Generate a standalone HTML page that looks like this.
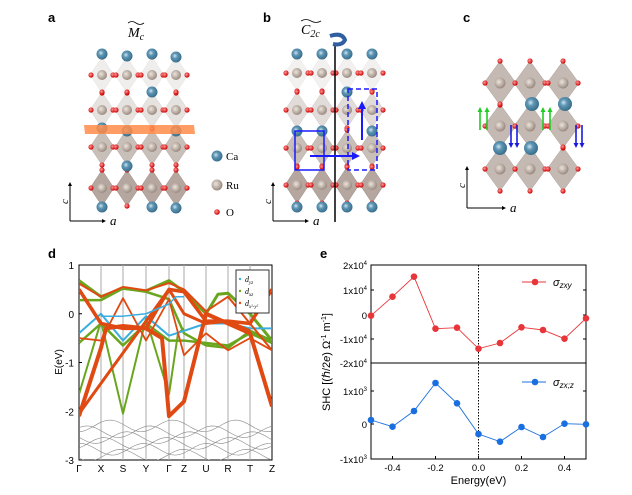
<!DOCTYPE html><html><head><meta charset="utf-8"><style>
body{margin:0;background:#fff;width:632px;height:490px;overflow:hidden}
svg{font-family:"Liberation Sans",sans-serif}
</style></head><body>
<svg id="s" width="632" height="490" viewBox="0 0 632 490" xmlns="http://www.w3.org/2000/svg">
<defs>
<radialGradient id="ca" cx="0.4" cy="0.4" r="0.6"><stop offset="0" stop-color="#cfe6f2"/><stop offset="0.4" stop-color="#5d95b3"/><stop offset="1" stop-color="#3a6f8c"/></radialGradient>
<radialGradient id="ru" cx="0.4" cy="0.4" r="0.6"><stop offset="0" stop-color="#ece4dc"/><stop offset="1" stop-color="#9a8a80"/></radialGradient>
<radialGradient id="o" cx="0.4" cy="0.4" r="0.6"><stop offset="0" stop-color="#ff9a9a"/><stop offset="1" stop-color="#cc0000"/></radialGradient>
<clipPath id="cp"><rect x="79" y="265" width="193" height="195"/></clipPath>
</defs>
<g id="g"></g>
<text x="48" y="22" font-size="13" font-weight="bold">a</text>
<text x="263" y="22" font-size="13" font-weight="bold">b</text>
<text x="463" y="22" font-size="13" font-weight="bold">c</text>
<text x="48" y="258" font-size="13" font-weight="bold">d</text>
<text x="320" y="258" font-size="13" font-weight="bold">e</text>
<text x="128" y="37" font-size="14" font-style="italic" font-family="Liberation Serif">M<tspan font-size="10" dy="3">c</tspan></text>
<path d="M128 23 q4 -3 8 0 t8 0" stroke="#000" fill="none" stroke-width="0.8"/>
<text x="301" y="34" font-size="14" font-style="italic" font-family="Liberation Serif">C<tspan font-size="10" dy="3">2c</tspan></text>
<path d="M301 21 q5 -3 10 0 t10 0" stroke="#000" fill="none" stroke-width="0.8"/>
<circle cx="217" cy="156" r="5.5" fill="url(#ca)"/>
<circle cx="217" cy="185" r="5.5" fill="url(#ru)"/>
<circle cx="217" cy="212" r="2.8" fill="url(#o)"/>
<text x="226" y="160" font-size="11" font-family="Liberation Serif">Ca</text>
<text x="226" y="189" font-size="11" font-family="Liberation Serif">Ru</text>
<text x="226" y="216" font-size="11" font-family="Liberation Serif">O</text>
</svg>
<script>
const g=document.getElementById('g');let h='';
function oct(x,y,w,hh,op){h+=`<polygon points="${x},${y-hh} ${x+w},${y} ${x},${y+hh} ${x-w},${y}" fill="#9c8a80" fill-opacity="${op}" stroke="#8a7a70" stroke-width="0.5" stroke-opacity="${op}"/>`;}
function c(x,y,r,f){h+=`<circle cx="${x}" cy="${y}" r="${r}" fill="url(#${f})"/>`;}
function struct(cols,rows,cas,op){
 rows.forEach((y,ri)=>cols.forEach(x=>oct(x,y,12,18,op[ri])));
 rows.forEach(y=>cols.forEach(x=>{c(x,y,5,'ru');c(x,y-18,2.6,'o');c(x,y+18,2.6,'o');c(x-11,y,2.6,'o');c(x+11,y,2.6,'o');}));
 cas.forEach(p=>c(p[0],p[1],5.5,'ca'));
}
struct([102,127,152,176],[75,110,147,188],[[102,54],[127,56],[152,54],[176,57],[152,92],[102,128],[127,131],[176,131],[127,166],[102,207],[152,207],[176,208]],[0.15,0.25,0.55,0.75]);
h+=`<polygon points="84,125 194,125 195,134 85,134" fill="#ff8c4a" opacity="0.85"/>`;
struct([297,322,347,372],[73,110,148,185],[[297,54],[322,54],[347,54],[372,54],[347,92],[297,131],[322,131],[372,131],[297,207],[322,207],[347,207],[372,207]],[0.12,0.3,0.55,0.75]);
h+=`<line x1="335" y1="45" x2="335" y2="222" stroke="#000" stroke-width="1.5"/>`;
h+=`<path d="M330 36 q12 -4 15 4 q-3 6 -12 4" stroke="#2f5fa0" stroke-width="4" fill="none"/>`;
h+=`<rect x="295" y="131" width="29" height="39" fill="none" stroke="#1a1aff" stroke-width="1.5"/>`;
h+=`<rect x="348" y="89" width="29" height="81" fill="none" stroke="#1a1aff" stroke-width="1.5" stroke-dasharray="5,3"/>`;
h+=`<line x1="310" y1="156" x2="355" y2="156" stroke="#1a1aff" stroke-width="2"/><polygon points="360,156 352,152 352,160" fill="#1a1aff"/>`;
h+=`<line x1="362" y1="140" x2="362" y2="107" stroke="#1a1aff" stroke-width="2"/><polygon points="362,101 358,109 366,109" fill="#1a1aff"/>`;
const pc=[[500,83],[530,83],[563,83],[500,126],[530,126],[563,126],[500,169],[530,169],[563,169]];
pc.forEach(p=>oct(p[0],p[1],16,22,0.6));
pc.forEach(p=>{c(p[0],p[1],5.5,'ru');c(p[0],p[1]-22,2.6,'o');c(p[0],p[1]+22,2.6,'o');c(p[0]-15,p[1],2.6,'o');c(p[0]+15,p[1],2.6,'o');});
[[532,104],[565,104],[500,148],[531,148]].forEach(p=>c(p[0],p[1],7,'ca'));
function arr(x,y1,y2,col){h+=`<line x1="${x}" y1="${y1}" x2="${x}" y2="${y2}" stroke="${col}" stroke-width="1.6"/>`;const d=y2<y1?-1:1;h+=`<polygon points="${x},${y2+d*3} ${x-2.5},${y2-d*2} ${x+2.5},${y2-d*2}" fill="${col}"/>`;}
[480,487,543,550].forEach(x=>arr(x,130,110,'#22cc22'));
[511,517,576,582].forEach(x=>arr(x,125,145,'#1a1add'));
function ax(x0,y0,len,lenx){h+=`<line x1="${x0}" y1="${y0}" x2="${x0}" y2="${y0-len}" stroke="#000"/><polygon points="${x0},${y0-len-4} ${x0-2},${y0-len} ${x0+2},${y0-len}"/><line x1="${x0}" y1="${y0}" x2="${x0+lenx}" y2="${y0}" stroke="#000"/><polygon points="${x0+lenx+4},${y0} ${x0+lenx},${y0-2} ${x0+lenx},${y0+2}"/><text x="${x0-10}" y="${y0-len+18}" font-size="11" font-style="italic" transform="rotate(-90 ${x0-6} ${y0-len+14})" font-family="Liberation Serif">c</text><text x="${x0+lenx+8}" y="${y0+4}" font-size="13" font-style="italic" font-family="Liberation Serif">a</text>`;}
ax(70,221,35,32);ax(273,221,35,32);ax(467,208,38,35);
const X0=79,X1=272,Y0=265,Y1=460;const ey=e=>Y0+(1-e)*48.75;
h+=`<rect x="${X0}" y="${Y0}" width="${X1-X0}" height="${Y1-Y0}" fill="#fff" stroke="#000"/>`;
const kx=[79,101,123,146,169,184,206,228,250,272],kl=['Γ','X','S','Y','Γ','Z','U','R','T','Z'];
kx.forEach((x,i)=>{if(i>0&&i<9)h+=`<line x1="${x}" y1="${Y0}" x2="${x}" y2="${Y1}" stroke="#aaa"/>`;h+=`<text x="${x}" y="472" font-size="10" text-anchor="middle">${kl[i]}</text>`;});
[1,0,-1,-2,-3].forEach(e=>{h+=`<text x="${X0-5}" y="${ey(e)+4}" font-size="10" text-anchor="end">${e}</text><line x1="${X0}" y1="${ey(e)}" x2="${X0+3}" y2="${ey(e)}" stroke="#000"/>`;});
h+=`<text x="62" y="362" font-size="10" text-anchor="middle" transform="rotate(-90 62 362)">E(eV)</text>`;
h+='<g clip-path="url(#cp)">';
for(let i=0;i<6;i++){let p='';for(let x=X0;x<=X1;x+=4){p+=`${x},${ey(-2.3-i*0.12-0.12*Math.sin((x+i*23)/10))} `;}h+=`<polyline points="${p}" fill="none" stroke="#888" stroke-width="0.6"/>`;}
function band(pts,col,w){h+=`<polyline points="${pts.map(p=>p[0]+','+ey(p[1])).join(' ')}" fill="none" stroke="${col}" stroke-width="${w}" stroke-linejoin="round"/>`;}
const G='#6aa51e',R='#e04a12',B='#3aaee0';
band([[79,0.68],[101,0.35],[123,0.52],[146,0.47],[169,0.68],[184,0.45],[206,0],[218,0.4],[228,0.42],[250,0],[272,-0.55]],G,3);
band([[79,-1.65],[101,-0.15],[123,-2.05],[146,-0.1],[169,-1.65],[178,-0.4],[184,-0.3]],G,2);
band([[79,0.28],[101,0.28],[123,0.52],[146,0.45],[169,0.3],[184,-0.4],[206,-0.65],[228,-0.7],[250,-0.35],[272,-0.55]],G,2.5);
band([[79,-0.4],[101,0],[123,-0.55],[146,-0.05],[169,-0.45],[184,-0.35],[206,-0.2],[228,-0.2],[250,-0.3],[272,-0.3]],B,2);
band([[79,-0.6],[101,-0.2],[123,-0.65],[146,-0.2],[169,-0.55],[184,-0.55],[206,-0.6],[228,-0.65],[250,-0.4],[272,-0.6]],G,2.5);
band([[79,-2.1],[101,-0.7],[106,-0.3],[123,-0.25],[146,-0.3],[162,-0.5],[169,-2.1],[184,-1.8],[206,0],[228,-0.2],[250,-0.4],[272,-1.9]],R,4);
band([[79,0.5],[101,-0.2],[123,-0.3],[146,-0.3],[169,0.5],[184,0.45],[206,-0.15],[228,-0.15],[250,-0.2],[272,0.5]],R,3.5);
band([[79,0.62],[101,0.35],[123,0.55],[146,0.48],[169,0.63],[184,0.5],[206,0.05],[228,0.35],[250,-0.2],[272,-0.75]],R,2);
band([[79,-0.5],[101,-0.55],[123,0.32],[146,-0.55],[169,0.3],[184,-0.85],[206,-0.4],[228,-0.75],[250,-0.5],[272,-0.75]],R,1.8);
band([[79,-2.05],[169,0.5],[184,0],[206,-0.2],[228,-0.15],[250,-0.35]],R,3);
band([[101,-0.05],[123,-0.05],[146,0],[169,0.2],[176,0.35],[184,0.35]],B,1.5);
h+='</g>';
h+=`<rect x="236" y="270" width="33" height="43" fill="#fff" stroke="#333"/>`;
[[B,'yz',282],[G,'xz',294],[R,'x²-y²',306]].forEach(a=>{h+=`<circle cx="240" cy="${a[2]-3}" r="1.2" fill="${a[0]}"/><text x="245" y="${a[2]}" font-size="8" font-style="italic" font-family="Liberation Serif">d<tspan font-size="5" dy="2">${a[1]}</tspan></text>`;});
const EX0=371,EX1=586;const vx=v=>EX0+(v+0.5)*215;
h+=`<rect x="${EX0}" y="265" width="${EX1-EX0}" height="194" fill="none" stroke="#000"/><line x1="${EX0}" y1="363" x2="${EX1}" y2="363" stroke="#000"/>`;
h+=`<line x1="${vx(0)}" y1="265" x2="${vx(0)}" y2="459" stroke="#000" stroke-dasharray="1.5,1.5"/>`;
[['2x10<tspan font-size="6" dy="-4">4</tspan>',265],['1x10<tspan font-size="6" dy="-4">4</tspan>',290],['0',315],['-1x10<tspan font-size="6" dy="-4">4</tspan>',339],['-2x10<tspan font-size="6" dy="-4">4</tspan>',363],['1x10<tspan font-size="6" dy="-4">3</tspan>',391],['0',424],['-1x10<tspan font-size="6" dy="-4">3</tspan>',459]].forEach(a=>{h+=`<text x="367" y="${a[1]+4}" font-size="9.5" text-anchor="end">${a[0]}</text><line x1="${EX0}" y1="${a[1]}" x2="${EX0+3}" y2="${a[1]}" stroke="#000"/><line x1="${EX1}" y1="${a[1]}" x2="${EX1-3}" y2="${a[1]}" stroke="#000"/>`;});
[-0.4,-0.2,0,0.2,0.4].forEach(v=>{h+=`<text x="${vx(v)}" y="471" font-size="9.5" text-anchor="middle">${v.toFixed(1)}</text><line x1="${vx(v)}" y1="459" x2="${vx(v)}" y2="456" stroke="#000"/>`;});
h+=`<text x="${vx(0)}" y="484" font-size="11" text-anchor="middle">Energy(eV)</text>`;
h+=`<text x="330" y="362" font-size="11" text-anchor="middle" transform="rotate(-90 330 362)">SHC [(ℏ/2<tspan font-style="italic">e</tspan>) Ω<tspan font-size="7" dy="-4">-1</tspan><tspan dy="4"> m</tspan><tspan font-size="7" dy="-4">-1</tspan><tspan dy="4">]</tspan></text>`;
function ser(ys,col){const p=ys.map((y,i)=>[vx(-0.5+i*0.1),250+y/3]);h+=`<polyline points="${p.map(q=>q.join(',')).join(' ')}" fill="none" stroke="${col}" stroke-width="0.9"/>`;p.forEach(q=>h+=`<circle cx="${q[0]}" cy="${q[1]}" r="3.3" fill="${col}"/>`);}
ser([197,140,80,236,233,296,279,232,240,266,205],'#e8353a');
ser([510,530,483,399,460,552,575,531,561,521,523],'#1a6fe0');
h+=`<line x1="522" y1="282" x2="546" y2="282" stroke="#e8353a"/><circle cx="535" cy="282" r="3.3" fill="#e8353a"/><text x="553" y="286" font-size="11" font-style="italic">σ<tspan font-size="8" dy="2">zxy</tspan></text>`;
h+=`<line x1="522" y1="382" x2="546" y2="382" stroke="#1a6fe0"/><circle cx="535" cy="382" r="3.3" fill="#1a6fe0"/><text x="553" y="386" font-size="11" font-style="italic">σ<tspan font-size="8" dy="2">zx;z</tspan></text>`;
g.innerHTML=h;
</script>
</body></html>
